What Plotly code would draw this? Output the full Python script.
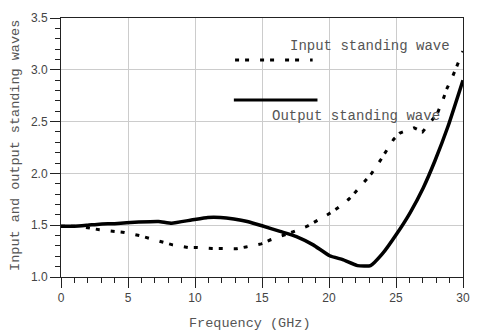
import plotly.graph_objects as go

# Input standing wave (dotted)
freq_in = [0, 1, 2, 2.87, 4.0, 4.73, 5.86, 6.54, 7.65, 8.33, 9.49, 10.17, 11.27, 11.98,
           13.1, 13.8, 14.95, 15.6, 16.7, 17.33, 18.38, 19.0, 20.0, 20.59, 21.47, 21.98,
           22.74, 23.18, 23.83, 24.2, 24.83, 25.3, 26.35, 26.98, 27.7, 28.09, 28.53,
           28.77, 29.24, 29.54, 30]
vswr_in = [1.49, 1.49, 1.475, 1.456, 1.44, 1.43, 1.40, 1.376, 1.34, 1.31, 1.285, 1.285,
           1.276, 1.273, 1.273, 1.29, 1.32, 1.357, 1.405, 1.437, 1.49, 1.533, 1.61, 1.66,
           1.75, 1.82, 1.93, 2.0, 2.125, 2.2, 2.33, 2.39, 2.44, 2.40, 2.51, 2.58, 2.72,
           2.81, 2.94, 3.03, 3.18]

# Output standing wave (solid)
freq_out = [0, 1, 2, 2.87, 4, 5.8, 7.28, 8.26, 9.73, 10.96, 11.9, 12.9, 13.9, 15.0, 16.35,
            17.57, 18.82, 20.05, 21.03, 22.13, 23.1, 23.96, 25.07, 26.05, 27.03, 27.9,
            28.87, 30]
vswr_out = [1.49, 1.49, 1.50, 1.51, 1.515, 1.53, 1.536, 1.52, 1.55, 1.575, 1.575, 1.56,
            1.536, 1.495, 1.44, 1.39, 1.31, 1.205, 1.167, 1.11, 1.11, 1.22, 1.42, 1.62,
            1.86, 2.12, 2.45, 2.90]

x_ticks = [0, 5, 10, 15, 20, 25, 30]
y_ticks = [1.0, 1.5, 2.0, 2.5, 3.0, 3.5]

label_in = "Input standing wave"
label_out = "Output standing wave"
x_title = "Frequency (GHz)"
y_title = "Input and output standing waves"

mono = "Liberation Mono, Courier New, monospace"
txt_color = "#555555"

fig = go.Figure()
fig.add_trace(go.Scatter(x=freq_in, y=vswr_in, mode="lines",
                         line=dict(color="black", width=3, dash="4px,6px,4px,11px"),
                         showlegend=False, hoverinfo="skip"))
fig.add_trace(go.Scatter(x=freq_out, y=vswr_out, mode="lines",
                         line=dict(color="black", width=3.5, shape="spline", smoothing=0.4),
                         showlegend=False, hoverinfo="skip"))

axis_common = dict(
    showline=True, linecolor="#222222", linewidth=1, mirror=True,
    showgrid=True, gridcolor="#cccccc", gridwidth=1,
    ticks="outside", ticklen=10, tickcolor="#222222", tickwidth=1,
    tickfont=dict(family="Liberation Sans, Arial, sans-serif", size=12, color="#444444"),
    zeroline=False,
)

fig.update_xaxes(range=[0, 30], tickvals=x_ticks, ticktext=[str(v) for v in x_ticks],
                 minor=dict(dtick=1, ticklen=5, tickcolor="#222222", ticks="outside", showgrid=False),
                 **axis_common)
fig.update_yaxes(range=[1.0, 3.5], tickvals=y_ticks, ticktext=[f"{v:.1f}" for v in y_ticks],
                 minor=dict(dtick=0.1, ticklen=5, tickcolor="#222222", ticks="outside", showgrid=False),
                 **axis_common)

# legend-like samples
fig.add_shape(type="line", xref="paper", yref="paper", x0=0.433, x1=0.626, y0=0.838, y1=0.838,
              line=dict(color="black", width=3, dash="4px,6px,4px,11px"))
fig.add_shape(type="line", xref="paper", yref="paper", x0=0.430, x1=0.638, y0=0.683, y1=0.683,
              line=dict(color="black", width=3))

fig.add_annotation(text=label_in, xref="paper", yref="paper", x=0.565, y=0.892,
                   xanchor="left", yanchor="middle", showarrow=False,
                   font=dict(family=mono, size=14, color=txt_color))
fig.add_annotation(text=label_out, xref="paper", yref="paper", x=0.521, y=0.622,
                   xanchor="left", yanchor="middle", showarrow=False,
                   font=dict(family=mono, size=14, color=txt_color))
fig.add_annotation(text=x_title, xref="paper", yref="paper", x=0.469, y=-0.178,
                   xanchor="center", yanchor="middle", showarrow=False,
                   font=dict(family=mono, size=13.5, color=txt_color))
fig.add_annotation(text=y_title, xref="paper", yref="paper", x=-0.112, y=0.51,
                   xanchor="center", yanchor="middle", showarrow=False, textangle=-90,
                   font=dict(family=mono, size=13.5, color=txt_color))

fig.update_layout(
    width=477, height=333, autosize=False,
    margin=dict(l=61, r=7, t=18, b=56),
    plot_bgcolor="white", paper_bgcolor="white",
    showlegend=False,
)

fig.write_html("out.html",
               config={"displayModeBar": False, "responsive": False},
               post_script="document.body.style.margin='0px';document.body.style.overflow='hidden';")
